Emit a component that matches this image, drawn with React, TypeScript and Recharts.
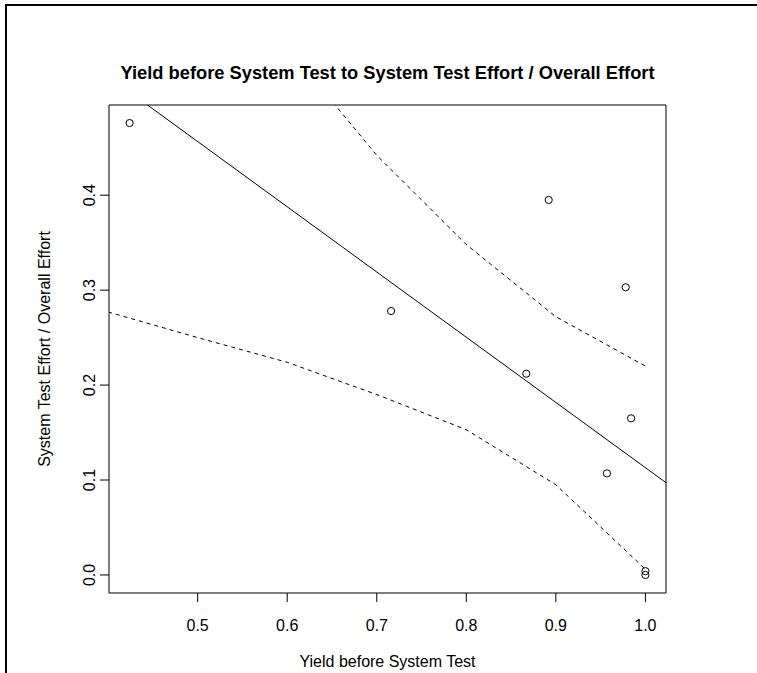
import React from 'react';
import { ComposedChart, XAxis, YAxis, Scatter, Line, ReferenceArea } from 'recharts';

// Observed points
const yieldBeforeST = [0.424, 0.716, 0.867, 0.892, 0.978, 0.984, 0.957, 1.0, 1.0];
const stEffortRatio = [0.476, 0.278, 0.212, 0.395, 0.303, 0.165, 0.107, 0.004, 0.0];

// Fitted regression line
const fitIntercept = 0.8;
const fitSlope = -0.687;

// Confidence band (dashed), evaluated at these x values
const bandX = [0.4, 0.5, 0.6, 0.7, 0.8, 0.9, 1.0];
const lowerBand = [0.277, 0.25, 0.224, 0.19, 0.153, 0.095, 0.006];
const upperBand = [0.772, 0.665, 0.556, 0.442, 0.348, 0.272, 0.22];

const xTicks = [0.5, 0.6, 0.7, 0.8, 0.9, 1.0];
const yTicks = [0.0, 0.1, 0.2, 0.3, 0.4];

const xDomain: [number, number] = [0.401, 1.023];
const yDomain: [number, number] = [-0.019, 0.495];

const titleText = 'Yield before System Test to System Test Effort / Overall Effort';
const xTitle = 'Yield before System Test';
const yTitle = 'System Test Effort / Overall Effort';

const FONT = '"Liberation Sans", Arial, Helvetica, sans-serif';

const points = yieldBeforeST.map((x, i) => ({ x, y: stEffortRatio[i] }));
const fitData = xDomain.map((x) => ({ x, y: fitIntercept + fitSlope * x }));
const lowerData = bandX.map((x, i) => ({ x, y: lowerBand[i] }));
const upperData = bandX.map((x, i) => ({ x, y: upperBand[i] }));

const XTick = (props: any) => {
  const { x, payload } = props;
  return (
    <text x={x} y={631} textAnchor="middle" fontSize={16} fontFamily={FONT} fill="#000">
      {Number(payload.value).toFixed(1)}
    </text>
  );
};

const YTick = (props: any) => {
  const { y, payload } = props;
  return (
    <text
      x={0}
      y={0}
      transform={`translate(95, ${y}) rotate(-90)`}
      textAnchor="middle"
      fontSize={16}
      fontFamily={FONT}
      fill="#000"
    >
      {Number(payload.value).toFixed(1)}
    </text>
  );
};

const OpenCircle = (props: any) => {
  const { cx, cy } = props;
  if (cx == null || cy == null) return null;
  return <circle cx={cx} cy={cy} r={3.6} fill="none" stroke="#000" strokeWidth={1} />;
};

export default function App() {
  return (
    <div style={{ position: 'absolute', left: 0, top: 0, width: 757, height: 673, background: '#fff', overflow: 'hidden' }}>
      <ComposedChart
        width={757}
        height={673}
        margin={{ top: 105, right: 91, bottom: 40, left: 49 }}
        accessibilityLayer={false}
        style={{ outline: 'none' }}
      >
        <XAxis
          type="number"
          dataKey="x"
          domain={xDomain}
          ticks={xTicks}
          allowDataOverflow
          axisLine={false}
          tickLine={{ stroke: '#000' }}
          tickSize={9}
          tick={<XTick />}
          height={40}
          interval={0}
        />
        <YAxis
          type="number"
          dataKey="y"
          domain={yDomain}
          ticks={yTicks}
          allowDataOverflow
          axisLine={false}
          tickLine={{ stroke: '#000' }}
          tickSize={9}
          tick={<YTick />}
          width={60}
          interval={0}
        />
        <ReferenceArea
          x1={xDomain[0]}
          x2={xDomain[1]}
          y1={yDomain[0]}
          y2={yDomain[1]}
          fill="none"
          fillOpacity={0}
          stroke="#000"
          strokeWidth={1}
          ifOverflow="visible"
        />
        <Line
          data={fitData}
          dataKey="y"
          type="linear"
          stroke="#000"
          strokeWidth={1}
          dot={false}
          activeDot={false}
          isAnimationActive={false}
        />
        <Line
          data={lowerData}
          dataKey="y"
          type="linear"
          stroke="#000"
          strokeWidth={1}
          strokeDasharray="4 4"
          dot={false}
          activeDot={false}
          isAnimationActive={false}
        />
        <Line
          data={upperData}
          dataKey="y"
          type="linear"
          stroke="#000"
          strokeWidth={1}
          strokeDasharray="4 4"
          dot={false}
          activeDot={false}
          isAnimationActive={false}
        />
        <Scatter data={points} dataKey="y" shape={<OpenCircle />} isAnimationActive={false} />
      </ComposedChart>
      <svg
        width={757}
        height={673}
        style={{ position: 'absolute', left: 0, top: 0, pointerEvents: 'none' }}
      >
        <text x={387.5} y={79} textAnchor="middle" fontSize={18.3} fontWeight="bold" fontFamily={FONT} fill="#000">
          {titleText}
        </text>
        <text x={387.5} y={667} textAnchor="middle" fontSize={16} fontFamily={FONT} fill="#000">
          {xTitle}
        </text>
        <text
          x={0}
          y={0}
          transform="translate(50, 349) rotate(-90)"
          textAnchor="middle"
          fontSize={16}
          fontFamily={FONT}
          fill="#000"
        >
          {yTitle}
        </text>
        <rect x={5} y={4} width={752} height={2} fill="#000" />
        <rect x={5} y={4} width={2} height={669} fill="#000" />
      </svg>
    </div>
  );
}
